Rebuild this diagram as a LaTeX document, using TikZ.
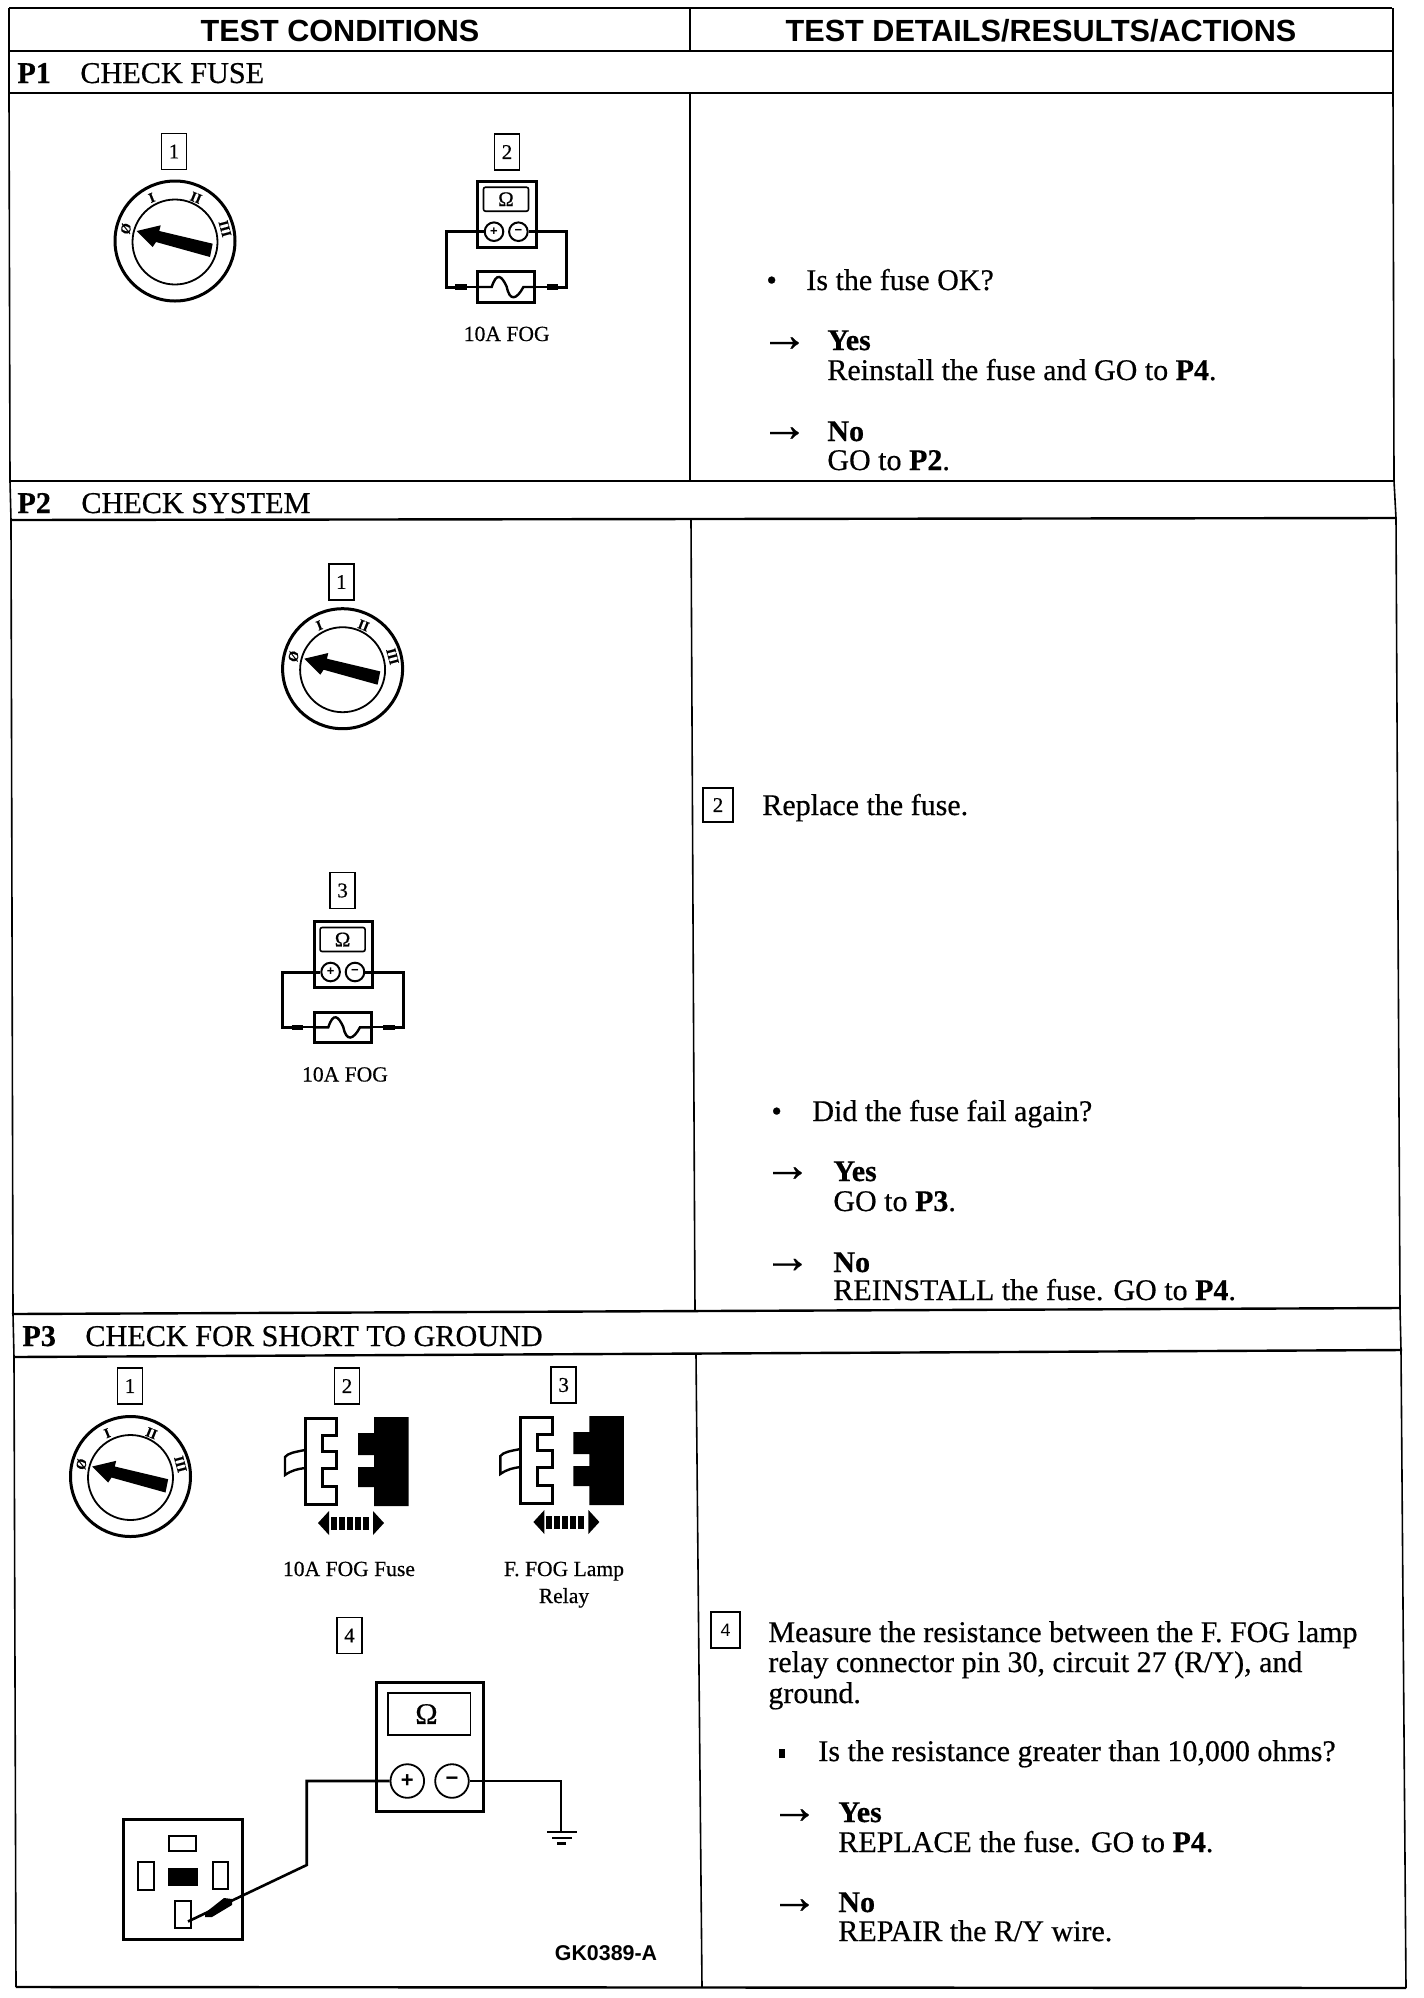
\documentclass[tikz,border=0pt]{standalone}
\usepackage{fontspec}
\setmainfont{Liberation Serif}[FakeBold=0.5]
\newfontfamily\hdrfont{Liberation Sans}
\tikzset{
  hline/.style={line width=1.2pt},
  vline/.style={line width=0.8pt},
  body/.style={anchor=base west,inner sep=0pt,font=\fontsize{15}{16}\selectfont},
  arrowglyph/.style={anchor=base west,inner sep=0pt,font=\fontsize{24}{24}\selectfont},
  barlabel/.style={anchor=base west,inner sep=0pt,font=\fontsize{15.1}{16}\selectfont},
  tabhead/.style={anchor=base,inner sep=0pt,font=\hdrfont\bfseries\fontsize{15.3}{16}\selectfont},
  smalllabel/.style={anchor=base,inner sep=0pt,font=\fontsize{10.8}{11}\selectfont},
  numbox/.style={draw,line width=0.75pt,minimum width=12.5pt,minimum height=18pt,inner sep=0pt,font=\fontsize{10.5}{11}\selectfont},
  dial/.style={circle,draw,inner sep=0pt,font=\hdrfont\bfseries},
  wire/.style={line width=1.5pt},
  leadwire/.style={line width=1pt},
  keypos/.style={inner sep=0pt,font=\bfseries\fontsize{7}{7}\selectfont},
}
\newcommand{\ignit}[3]{%
 \begin{scope}[shift={(#1,#2)}]
  \node[circle,draw,line width=1.5pt,minimum size=60pt,inner sep=0pt] (#3outer) at (0,0) {};
  \node[circle,draw,line width=0.9pt,minimum size=42.5pt,inner sep=0pt] (#3inner) at (0,1) {};
  \fill (-38.3,-10) -- (-14.3,-15.7) -- (-15.7,-10) -- (37.7,2.7) -- (35,16) -- (-19,1) -- (-22.3,6) -- cycle;
  \node[keypos,rotate=78] (#3p0) at (-49,-12.3) {Ø};
  \node[keypos,rotate=22] (#3p1) at (-23.3,-43.3) {I};
  \node[keypos,rotate=-22] (#3p2) at (21,-43.3) {II};
  \node[keypos,rotate=-75] (#3p3) at (50,-12.3) {III};
 \end{scope}}
\newcommand{\smeter}[3]{%
 \begin{scope}[shift={(#1,#2)}]
  \draw[line width=1.5pt] (-29.3,-50.7) rectangle (29.3,15.7);
  \node[draw,rounded corners=1pt,line width=0.8pt,minimum width=22.5pt,minimum height=12pt,inner sep=0pt,font=\fontsize{10.5}{11}\selectfont] (#3disp) at (-0.7,-32.5) {Ω};
  \node[dial,line width=1pt,minimum size=9.3pt,font=\hdrfont\bfseries\fontsize{6.5}{7}\selectfont] (#3plus) at (-12.7,0) {+};
  \node[dial,line width=1pt,minimum size=9.3pt,font=\hdrfont\bfseries\fontsize{6.5}{7}\selectfont] (#3minus) at (11.7,0) {−};
  \node[draw,line width=1.5pt,minimum width=28.5pt,minimum height=15.3pt,inner sep=0pt] (#3fuse) at (-0.5,55.3) {};
  \draw[wire] (#3plus.west) -- (-60.7,0) -- (-60.7,55.3) -- (-51.7,55.3);
  \draw[line width=2.6pt] (-51.7,55.3) -- (-40,55.3);
  \draw[leadwire] (-40,55.3) -- (#3fuse.west);
  \draw[wire] (#3minus.east) -- (60,0) -- (60,55.3) -- (51.7,55.3);
  \draw[line width=2.6pt] (51.7,55.3) -- (40,55.3);
  \draw[leadwire] (40,55.3) -- (#3fuse.east);
  \draw[line width=1.2pt] (#3fuse.west) -- (-15,55.3) .. controls (-10,40) and (-5,44) .. (0,55) .. controls (3,70) and (10,68) .. (16.7,55.3) -- (#3fuse.east);
 \end{scope}}
\newcommand{\relayplug}[2]{%
 \begin{scope}[shift={(#1,#2)}]
  \draw[line width=1.5pt] (305,1418) -- (336.6,1418) -- (336.6,1435) -- (322,1435) -- (322,1451) -- (336.6,1451) -- (336.6,1468) -- (322,1468) -- (322,1486) -- (336.6,1486) -- (336.6,1504) -- (305,1504) -- cycle;
  \draw[line width=1.2pt] (305,1450) .. controls (295,1452) and (288,1453) .. (285,1457) -- (285,1475) .. controls (292,1470) and (298,1469) .. (305,1468);
  \fill (374,1417) -- (408.5,1417) -- (408.5,1506) -- (374,1506) -- (374,1487) -- (358,1487) -- (358,1467) -- (374,1467) -- (374,1455) -- (358,1455) -- (358,1433) -- (374,1433) -- cycle;
  \fill (318,1523) -- (329,1511) -- (329,1535) -- cycle;
  \fill (384,1523) -- (373,1511) -- (373,1535) -- cycle;
  \foreach \xa in {331,339,347,355,363} {\fill (\xa,1516.5) rectangle ++(6,13);}
 \end{scope}}
\begin{document}
\begin{tikzpicture}[x=0.5pt,y=-0.5pt]
\useasboundingbox (0,0) rectangle (1424,1998);
% table rules
\draw[hline] (9,8) -- (1392,8);
\draw[hline] (9,51) -- (1392,51);
\draw[hline] (9,93) -- (1392,93);
\draw[hline] (9,481) -- (1394,481);
\draw[hline] (11,520) -- (1396,518);
\draw[hline] (12,1314) -- (1399,1308);
\draw[hline] (14,1357) -- (1402,1350);
\draw[hline] (16,1987) -- (1406,1988);
\draw[vline] (9,8) -- (9,93) -- (10,481) -- (11,520) -- (13,1314) -- (14,1357) -- (16,1987);
\draw[vline] (1393,8) -- (1393,93) -- (1394,481) -- (1396,518) -- (1400,1308) -- (1401,1350) -- (1406,1988);
\draw[vline] (690,8) -- (690,51);
\draw[vline] (690,93) -- (690,481);
\draw[vline] (691,520) -- (695,1311);
\draw[vline] (696,1354) -- (702,1987);
% header
\node[tabhead] (h1) at (340,41) {TEST CONDITIONS};
\node[tabhead] (h2) at (1041,41) {TEST DETAILS/RESULTS/ACTIONS};
% P1
\node[barlabel] (p1a) at (17,83) {\bfseries P1};
\node[barlabel] (p1b) at (80,83) {CHECK FUSE};
\node[numbox] (p1n1) at (174,151.5) {1};
\node[numbox] (p1n2) at (507,152) {2};
\ignit{175}{241}{ia}
\smeter{506.7}{231.7}{ma}
\node[smalllabel] (p1l) at (506.7,341) {10A FOG};
\node[body] (p1bu) at (766,290) {•};
\node[body] (p1q) at (806,290) {Is the fuse OK?};
\node[arrowglyph] (p1ar1) at (760,351) {→};
\node[body] (p1y) at (827,350) {\bfseries Yes};
\node[body] (p1ya) at (827,380) {Reinstall the fuse and GO to \textbf{P4}.};
\node[arrowglyph] (p1ar2) at (760,441) {→};
\node[body] (p1no) at (827,441) {\bfseries No};
\node[body] (p1na) at (827,470) {GO to \textbf{P2}.};
% P2
\node[barlabel] (p2a) at (17,513) {\bfseries P2};
\node[barlabel] (p2b) at (81,513) {CHECK SYSTEM};
\node[numbox] (p2n1) at (341.4,582) {1};
\ignit{342.6}{668.7}{ib}
\node[numbox] (p2n3) at (342.6,890.5) {3};
\smeter{343.3}{972}{mb}
\node[smalllabel] (p2l) at (345,1081.5) {10A FOG};
\node[numbox,minimum width=15pt,minimum height=17pt] (p2n2) at (718,805) {2};
\node[body] (p2r) at (762,815) {Replace the fuse.};
\node[body] (p2bu) at (771,1121) {•};
\node[body] (p2q) at (812,1121) {Did the fuse fail again?};
\node[arrowglyph] (p2ar1) at (763,1181) {→};
\node[body] (p2y) at (833,1181) {\bfseries Yes};
\node[body] (p2ya) at (833,1211) {GO to \textbf{P3}.};
\node[arrowglyph] (p2ar2) at (763,1272.5) {→};
\node[body] (p2no) at (833,1272) {\bfseries No};
\node[body] (p2na) at (833,1300) {REINSTALL the fuse. GO to \textbf{P4}.};
% P3
\node[barlabel] (p3a) at (22,1346) {\bfseries P3};
\node[barlabel] (p3b) at (85,1346) {CHECK FOR SHORT TO GROUND};
\node[numbox] (p3n1) at (130,1386) {1};
\node[numbox] (p3n2) at (347,1386) {2};
\node[numbox] (p3n3) at (563.7,1385) {3};
\ignit{130.5}{1476.5}{ic}
\relayplug{0}{0}
\relayplug{215.4}{-1}
\node[smalllabel] (p3l1) at (349,1576) {10A FOG Fuse};
\node[smalllabel] (p3l2) at (564,1576) {F. FOG Lamp};
\node[smalllabel] (p3l3) at (564,1603) {Relay};
\node[numbox] (p3n4) at (349.5,1635.5) {4};
% large meter
\draw[line width=1.5pt] (376.3,1682.7) rectangle (483.9,1811.7);
\node[draw,line width=0.8pt,minimum width=41.3pt,minimum height=21pt,inner sep=0pt] (bigdisp) at (429,1714) {};
\node[inner sep=0pt,font=\fontsize{15}{15}\selectfont] (bigohm) at (426.5,1714) {Ω};
\node[dial,line width=0.9pt,minimum size=16.8pt,font=\hdrfont\bfseries\fontsize{11}{11}\selectfont] (bigplus) at (407.3,1781) {+};
\node[dial,line width=0.9pt,minimum size=16.8pt,font=\hdrfont\bfseries\fontsize{11}{11}\selectfont] (bigminus) at (452,1781) {−};
\draw[line width=1.5pt] (123.7,1819.3) rectangle (242.4,1939.3);
\node[draw,line width=0.9pt,minimum width=13.3pt,minimum height=7.6pt,inner sep=0pt] (slottop) at (182.4,1843.4) {};
\node[draw,line width=1pt,minimum width=8.1pt,minimum height=14pt,inner sep=0pt] (slotleft) at (146.2,1876) {};
\node[draw,line width=1pt,minimum width=7.5pt,minimum height=13.5pt,inner sep=0pt] (slotright) at (220.5,1875.5) {};
\node[draw,fill=black,minimum width=14.8pt,minimum height=8.5pt,inner sep=0pt] (slotmid) at (182.8,1876.5) {};
\node[draw,line width=1pt,minimum width=8.2pt,minimum height=13.6pt,inner sep=0pt] (slotpin) at (182.8,1914.4) {};
\coordinate (probetip) at (188,1921.5);
\coordinate (gndtop) at (561,1832);
\draw[line width=1.3pt] (bigplus.west) -- (306.7,1781) -- (306.7,1865) -- (probetip);
\draw[line width=1.3pt] (bigminus.east) -- (561,1781) -- (gndtop);
\fill (205,1913) -- (224,1898) -- (232,1899) -- (232,1905) -- (212,1917) -- (205,1917) -- cycle;
\draw[line width=1.3pt] (547,1832) -- (576.5,1832);
\draw[line width=1.3pt] (552,1838) -- (571.5,1838);
\draw[line width=1.3pt] (557,1843.5) -- (566,1843.5);
\node[anchor=base,inner sep=0pt,font=\hdrfont\bfseries\fontsize{10.7}{11}\selectfont] (code) at (606,1960) {GK0389-A};
% P3 right
\node[numbox,minimum width=14.5pt,minimum height=18pt,font=\hdrfont\fontsize{9}{10}\selectfont] (p3n4r) at (725.5,1630) {4};
\node[body] (p3t1) at (768,1642) {Measure the resistance between the F. FOG lamp};
\node[body] (p3t2) at (768,1672) {relay connector pin 30, circuit 27 (R/Y), and};
\node[body] (p3t3) at (768,1703) {ground.};
\node[fill=black,minimum width=3pt,minimum height=4.5pt,inner sep=0pt] (p3bu) at (781.5,1753) {};
\node[body] (p3q) at (818,1761) {Is the resistance greater than 10,000 ohms?};
\node[arrowglyph] (p3ar1) at (770,1823) {→};
\node[body] (p3y) at (838,1822) {\bfseries Yes};
\node[body] (p3ya) at (838,1852) {REPLACE the fuse. GO to \textbf{P4}.};
\node[arrowglyph] (p3ar2) at (770,1913) {→};
\node[body] (p3no) at (838,1912) {\bfseries No};
\node[body] (p3na) at (838,1941) {REPAIR the R/Y wire.};
\end{tikzpicture}
\end{document}
